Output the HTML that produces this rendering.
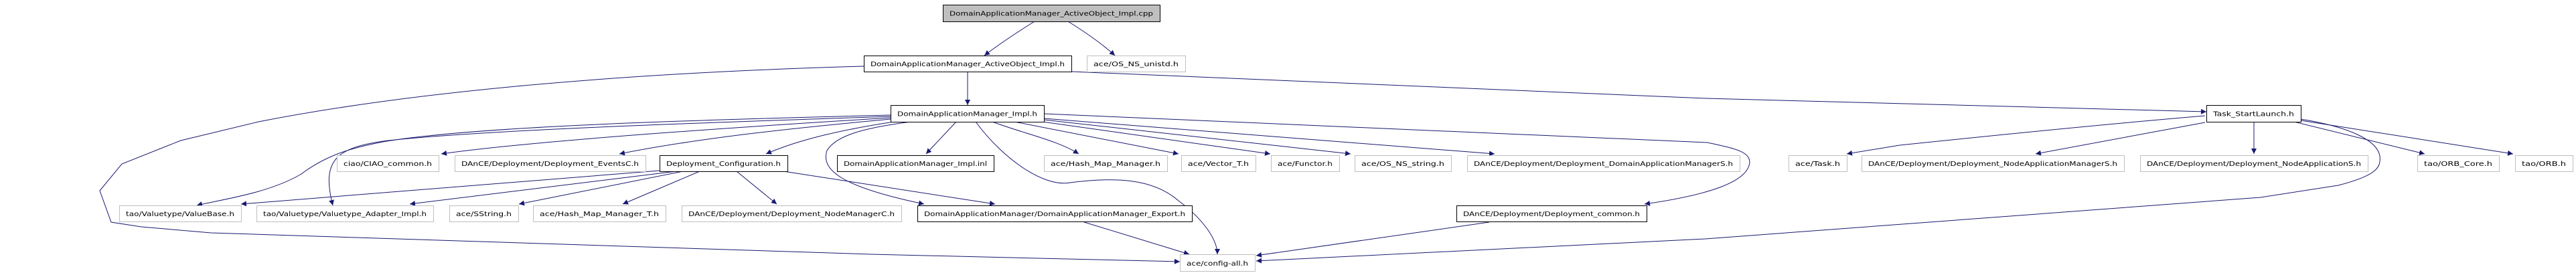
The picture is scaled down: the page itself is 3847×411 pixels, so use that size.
<!DOCTYPE html>
<html><head><meta charset="utf-8"><style>
html,body{margin:0;padding:0;background:#fff;width:3847px;height:411px;overflow:hidden}
text{font-family:"DejaVu Sans","Liberation Sans",sans-serif;font-size:10px;fill:#000}
</style></head><body>
<svg width="3847" height="411" viewBox="0 0 3847 411" xmlns="http://www.w3.org/2000/svg">
<defs><marker id="a" viewBox="0 0 10 10" refX="10" refY="5" markerWidth="8" markerHeight="8" orient="auto" markerUnits="userSpaceOnUse"><path d="M0,0L10,5L0,10z" fill="#191970"/></marker></defs>
<g fill="none" stroke="#191970" stroke-width="1" marker-end="url(#a)">
<path d="M1545,32 Q1500,60 1470,83"/>
<path d="M1595,32 Q1640,60 1665,83"/>
<path d="M1445,107 L1445,157"/>
<path d="M1600,107 L2547,147 L3295,167"/>
<path d="M1290,99 C900,110 600,140 386,182 L270,210 L182,245 L149,285 L166,332 L211,339 L315,348 L1300,380 L1762,391"/>
<path d="M1330,172 C1000,180 700,190 572,212 C530,220 490,230 450,260 C400,290 320,300 294,307"/>
<path d="M1330,174 C1000,185 720,195 580,210 C500,220 480,240 497,307"/>
<path d="M1330,176 C1100,190 800,210 659,230"/>
<path d="M1330,178 C1200,190 1050,205 925,230"/>
<path d="M1335,182 C1250,195 1190,210 1144,230"/>
<path d="M1428,182 L1383,230"/>
<path d="M1482,182 C1530,200 1580,210 1611,230"/>
<path d="M1515,182 L1760,230"/>
<path d="M1557,182 L1897,230"/>
<path d="M1559,179 L2017,230"/>
<path d="M1559,177 L2232,230"/>
<path d="M1457,182 C1500,240 1560,280 1598,273 C1660,265 1720,265 1760,300 C1800,330 1818,360 1818,380"/>
<path d="M1559,170 L2550,213 C2590,222 2613,226 2613,243 C2610,270 2560,290 2456,305"/>
<path d="M1360,182 C1300,190 1250,200 1235,225 C1225,255 1260,280 1380,305"/>
<path d="M985,255 L360,305"/>
<path d="M1010,256 L612,305"/>
<path d="M1020,256 L775,305"/>
<path d="M1045,256 L930,305"/>
<path d="M1100,256 L1160,305"/>
<path d="M1170,256 L1486,305"/>
<path d="M1619,332 L1776,380"/>
<path d="M2224,332 L1876,382"/>
<path d="M3436,178 C3510,190 3550,210 3554,233 C3556,250 3550,262 3492,277 L3376,295 L2547,357 L1876,390"/>
<path d="M3293,173 C3150,185 3000,200 2837,217 L2758,230"/>
<path d="M3293,183 L3040,230"/>
<path d="M3366,182 L3366,230"/>
<path d="M3426,182 L3621,230"/>
<path d="M3436,180 L3753,230"/>
</g>
<g stroke-width="1">
<rect x="1408.5" y="7.5" width="324" height="25" fill="#bfbfbf" stroke="#000"/>
<rect x="1290.5" y="83.5" width="310" height="24" fill="#fff" stroke="#000"/>
<rect x="1623.5" y="83.5" width="147" height="24" fill="#fff" stroke="#bfbfbf"/>
<rect x="1330.5" y="157.5" width="229" height="25" fill="#fff" stroke="#000"/>
<rect x="3295.5" y="157.5" width="141" height="25" fill="#fff" stroke="#000"/>
<rect x="503.5" y="232.5" width="152" height="24" fill="#fff" stroke="#bfbfbf"/>
<rect x="679.5" y="232.5" width="285" height="24" fill="#fff" stroke="#bfbfbf"/>
<rect x="985.5" y="232.5" width="191" height="24" fill="#fff" stroke="#000"/>
<rect x="1250.5" y="232.5" width="234" height="24" fill="#fff" stroke="#000"/>
<rect x="1559.5" y="232.5" width="184" height="24" fill="#fff" stroke="#bfbfbf"/>
<rect x="1764.5" y="232.5" width="111" height="24" fill="#fff" stroke="#bfbfbf"/>
<rect x="1898.5" y="232.5" width="102" height="24" fill="#fff" stroke="#bfbfbf"/>
<rect x="2023.5" y="232.5" width="144" height="24" fill="#fff" stroke="#bfbfbf"/>
<rect x="2191.5" y="232.5" width="407" height="24" fill="#fff" stroke="#bfbfbf"/>
<rect x="2671.5" y="232.5" width="87" height="24" fill="#fff" stroke="#bfbfbf"/>
<rect x="2780.5" y="232.5" width="392" height="24" fill="#fff" stroke="#bfbfbf"/>
<rect x="3196.5" y="232.5" width="340" height="24" fill="#fff" stroke="#bfbfbf"/>
<rect x="3610.5" y="232.5" width="122" height="24" fill="#fff" stroke="#bfbfbf"/>
<rect x="3756.5" y="232.5" width="86" height="24" fill="#fff" stroke="#bfbfbf"/>
<rect x="178.5" y="307.5" width="182" height="24" fill="#fff" stroke="#bfbfbf"/>
<rect x="383.5" y="307.5" width="264" height="24" fill="#fff" stroke="#bfbfbf"/>
<rect x="671.5" y="307.5" width="103" height="24" fill="#fff" stroke="#bfbfbf"/>
<rect x="796.5" y="307.5" width="198" height="24" fill="#fff" stroke="#bfbfbf"/>
<rect x="1018.5" y="307.5" width="328" height="24" fill="#fff" stroke="#bfbfbf"/>
<rect x="1370.5" y="307.5" width="410" height="24" fill="#fff" stroke="#000"/>
<rect x="2175.5" y="307.5" width="284" height="24" fill="#fff" stroke="#000"/>
<rect x="1762.5" y="380.5" width="112" height="25" fill="#fff" stroke="#bfbfbf"/>
</g>
<g lengthAdjust="spacingAndGlyphs">
<text x="1418" y="23.5" textLength="304" lengthAdjust="spacingAndGlyphs">DomainApplicationManager_ActiveObject_Impl.cpp</text>
<text x="1300" y="99" textLength="290" lengthAdjust="spacingAndGlyphs">DomainApplicationManager_ActiveObject_Impl.h</text>
<text x="1633" y="99" textLength="127" lengthAdjust="spacingAndGlyphs">ace/OS_NS_unistd.h</text>
<text x="1340" y="173.5" textLength="209" lengthAdjust="spacingAndGlyphs">DomainApplicationManager_Impl.h</text>
<text x="3305" y="173.5" textLength="121" lengthAdjust="spacingAndGlyphs">Task_StartLaunch.h</text>
<text x="513" y="248" textLength="132" lengthAdjust="spacingAndGlyphs">ciao/CIAO_common.h</text>
<text x="689" y="248" textLength="265" lengthAdjust="spacingAndGlyphs">DAnCE/Deployment/Deployment_EventsC.h</text>
<text x="995" y="248" textLength="171" lengthAdjust="spacingAndGlyphs">Deployment_Configuration.h</text>
<text x="1260" y="248" textLength="214" lengthAdjust="spacingAndGlyphs">DomainApplicationManager_Impl.inl</text>
<text x="1569" y="248" textLength="164" lengthAdjust="spacingAndGlyphs">ace/Hash_Map_Manager.h</text>
<text x="1774" y="248" textLength="91" lengthAdjust="spacingAndGlyphs">ace/Vector_T.h</text>
<text x="1908" y="248" textLength="82" lengthAdjust="spacingAndGlyphs">ace/Functor.h</text>
<text x="2033" y="248" textLength="124" lengthAdjust="spacingAndGlyphs">ace/OS_NS_string.h</text>
<text x="2201" y="248" textLength="387" lengthAdjust="spacingAndGlyphs">DAnCE/Deployment/Deployment_DomainApplicationManagerS.h</text>
<text x="2681" y="248" textLength="67" lengthAdjust="spacingAndGlyphs">ace/Task.h</text>
<text x="2790" y="248" textLength="372" lengthAdjust="spacingAndGlyphs">DAnCE/Deployment/Deployment_NodeApplicationManagerS.h</text>
<text x="3206" y="248" textLength="320" lengthAdjust="spacingAndGlyphs">DAnCE/Deployment/Deployment_NodeApplicationS.h</text>
<text x="3620" y="248" textLength="102" lengthAdjust="spacingAndGlyphs">tao/ORB_Core.h</text>
<text x="3766" y="248" textLength="66" lengthAdjust="spacingAndGlyphs">tao/ORB.h</text>
<text x="188" y="323" textLength="162" lengthAdjust="spacingAndGlyphs">tao/Valuetype/ValueBase.h</text>
<text x="393" y="323" textLength="244" lengthAdjust="spacingAndGlyphs">tao/Valuetype/Valuetype_Adapter_Impl.h</text>
<text x="681" y="323" textLength="83" lengthAdjust="spacingAndGlyphs">ace/SString.h</text>
<text x="806" y="323" textLength="178" lengthAdjust="spacingAndGlyphs">ace/Hash_Map_Manager_T.h</text>
<text x="1028" y="323" textLength="308" lengthAdjust="spacingAndGlyphs">DAnCE/Deployment/Deployment_NodeManagerC.h</text>
<text x="1380" y="323" textLength="390" lengthAdjust="spacingAndGlyphs">DomainApplicationManager/DomainApplicationManager_Export.h</text>
<text x="2185" y="323" textLength="264" lengthAdjust="spacingAndGlyphs">DAnCE/Deployment/Deployment_common.h</text>
<text x="1772" y="397" textLength="92" lengthAdjust="spacingAndGlyphs">ace/config-all.h</text>
</g>
</svg>
</body></html>
